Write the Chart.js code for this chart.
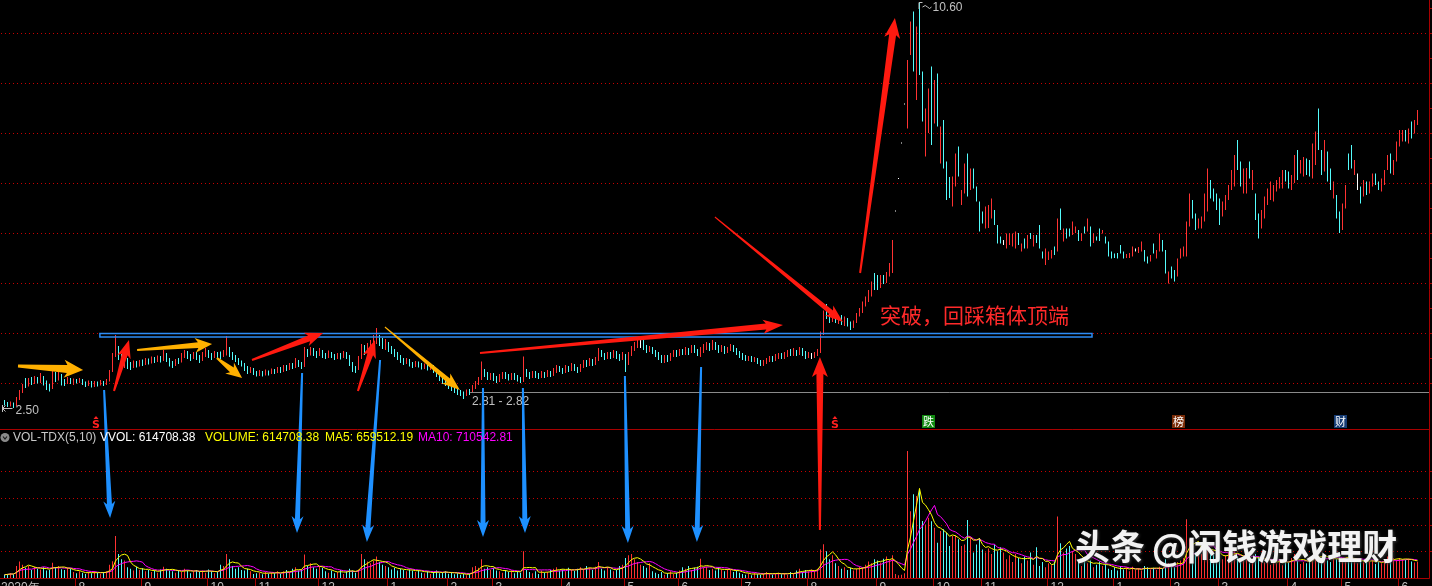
<!DOCTYPE html>
<html>
<head>
<meta charset="utf-8">
<title>VOL-TDX(5,10)</title>
<script src="https://cdn.jsdelivr.net/npm/chart.js@4.4.0/dist/chart.umd.min.js"></script>
<style>
  html, body { margin: 0; padding: 0; background: #000; overflow: hidden; width: 1432px; height: 586px; }
  canvas { display: block; }
</style>
</head>
<body>
<canvas id="kline" width="1432" height="596"></canvas>
<script>
// daily candles (price units)
const opens = [
  2.62,2.58,2.56,2.58,2.55,2.68,2.83,2.97,2.95,3.05,
  3.00,3.08,3.03,3.10,3.02,2.93,2.90,3.12,3.08,3.16,
  3.04,3.00,3.07,3.02,3.06,3.03,3.06,3.00,2.96,3.01,
  2.95,3.00,2.97,3.01,2.98,3.04,3.22,3.56,3.66,3.52,
  3.40,3.47,3.36,3.32,3.40,3.36,3.42,3.38,3.45,3.41,
  3.48,3.44,3.50,3.46,3.58,3.48,3.40,3.36,3.45,3.42,
  3.55,3.60,3.54,3.50,3.58,3.52,3.46,3.56,3.62,3.56,
  3.52,3.60,3.60,3.55,3.62,3.68,3.58,3.52,3.46,3.42,
  3.38,3.30,3.24,3.27,3.20,3.18,3.21,3.17,3.22,3.19,
  3.25,3.22,3.28,3.24,3.32,3.28,3.36,3.32,3.43,3.38,
  3.34,3.62,3.58,3.66,3.60,3.56,3.63,3.56,3.52,3.60,
  3.55,3.50,3.56,3.52,3.58,3.54,3.40,3.30,3.28,3.50,
  3.70,3.62,3.72,3.80,3.84,3.92,3.82,3.76,3.78,3.70,
  3.64,3.58,3.52,3.46,3.42,3.45,3.38,3.36,3.40,3.36,
  3.32,3.35,3.30,3.33,3.26,3.18,3.10,3.04,3.00,2.94,
  2.90,2.86,2.82,2.80,2.78,2.84,2.82,2.92,3.00,3.08,
  3.24,3.18,3.12,3.16,3.10,3.06,3.12,3.18,3.14,3.10,
  3.16,3.12,3.08,3.04,3.22,3.18,3.14,3.20,3.16,3.12,
  3.18,3.14,3.20,3.16,3.24,3.30,3.26,3.22,3.30,3.26,
  3.34,3.28,3.24,3.32,3.40,3.36,3.44,3.40,3.46,3.62,
  3.56,3.52,3.58,3.52,3.60,3.54,3.50,3.56,3.40,3.56,
  3.68,3.76,3.80,3.80,3.72,3.66,3.70,3.64,3.58,3.52,
  3.46,3.52,3.48,3.56,3.62,3.58,3.64,3.60,3.66,3.62,
  3.70,3.64,3.58,3.66,3.70,3.76,3.70,3.78,3.72,3.66,
  3.70,3.64,3.68,3.72,3.66,3.60,3.56,3.52,3.48,3.50,
  3.46,3.48,3.44,3.38,3.42,3.46,3.50,3.46,3.52,3.56,
  3.52,3.56,3.62,3.58,3.64,3.60,3.66,3.60,3.54,3.54,
  3.54,3.58,3.62,4.00,4.48,4.36,4.28,4.34,4.26,4.30,
  4.24,4.28,4.20,4.14,4.20,4.36,4.46,4.58,4.68,4.80,
  5.16,5.02,4.94,5.10,5.04,5.18,5.34,6.45,7.10,7.81,
  8.59,8.30,9.60,10.40,8.70,10.30,9.20,7.60,8.10,9.30,
  8.25,9.15,7.45,8.20,7.40,7.10,6.60,7.00,7.70,6.60,
  6.84,7.55,6.90,7.26,6.92,6.60,6.42,6.12,6.14,6.32,
  6.44,6.14,5.92,5.84,5.72,5.78,5.76,5.70,5.98,5.66,
  5.88,5.70,5.98,5.74,5.94,6.12,5.60,5.40,5.50,5.52,
  5.70,5.66,6.46,5.84,6.06,6.06,5.98,6.02,6.06,5.86,
  6.12,6.08,6.10,5.82,5.92,6.06,6.00,5.92,5.82,5.62,
  5.58,5.58,5.72,5.62,5.52,5.52,5.56,5.66,5.62,5.66,
  5.64,5.52,5.44,5.74,5.50,5.66,5.84,5.64,5.02,5.30,
  5.24,5.16,5.50,5.54,5.60,6.16,6.64,6.36,6.12,6.14,
  6.30,6.50,7.02,6.86,6.76,6.66,6.36,6.50,6.70,6.90,
  7.00,7.82,7.40,6.82,6.84,7.40,6.90,6.76,6.36,6.12,
  6.32,6.60,6.70,6.66,6.86,6.92,6.92,7.24,7.20,6.90,
  7.04,7.62,7.22,7.16,7.46,7.44,7.14,7.40,8.44,7.62,
  7.28,7.60,7.26,6.72,6.72,6.40,6.10,6.52,7.56,7.72,
  7.20,7.02,6.90,6.76,7.00,6.82,6.96,7.16,7.02,6.86,
  7.00,7.28,7.56,7.22,7.46,7.76,7.86,8.02,7.82,8.20,
  8.02,8.18
];
const closes = [
  2.58,2.55,2.60,2.54,2.68,2.82,2.95,2.94,3.05,3.00,
  3.08,3.03,3.12,3.02,2.92,2.88,3.12,3.08,3.18,3.04,
  3.00,3.08,3.02,3.06,3.03,3.07,3.00,2.96,3.02,2.95,
  3.00,2.97,3.02,2.98,3.03,3.22,3.55,3.66,3.52,3.40,
  3.48,3.36,3.32,3.40,3.36,3.42,3.38,3.45,3.41,3.48,
  3.44,3.50,3.46,3.60,3.48,3.40,3.36,3.45,3.42,3.55,
  3.60,3.54,3.50,3.58,3.52,3.46,3.56,3.62,3.56,3.52,
  3.60,3.55,3.55,3.62,3.70,3.58,3.52,3.46,3.42,3.38,
  3.30,3.24,3.28,3.20,3.18,3.22,3.17,3.22,3.19,3.25,
  3.22,3.28,3.24,3.32,3.28,3.36,3.32,3.44,3.38,3.34,
  3.62,3.58,3.66,3.60,3.56,3.64,3.56,3.52,3.60,3.55,
  3.50,3.56,3.52,3.58,3.54,3.40,3.30,3.28,3.50,3.70,
  3.62,3.72,3.80,3.88,3.92,3.82,3.76,3.80,3.70,3.64,
  3.58,3.52,3.46,3.42,3.46,3.38,3.36,3.40,3.36,3.32,
  3.36,3.30,3.34,3.26,3.18,3.10,3.04,3.00,2.94,2.90,
  2.86,2.82,2.80,2.78,2.84,2.82,2.92,3.00,3.08,3.26,
  3.18,3.12,3.16,3.10,3.06,3.12,3.18,3.14,3.10,3.16,
  3.12,3.08,3.04,3.22,3.18,3.14,3.20,3.16,3.12,3.18,
  3.14,3.20,3.16,3.24,3.30,3.26,3.22,3.30,3.26,3.34,
  3.28,3.24,3.32,3.40,3.36,3.44,3.40,3.46,3.62,3.56,
  3.52,3.58,3.52,3.60,3.54,3.50,3.56,3.40,3.56,3.68,
  3.76,3.84,3.80,3.72,3.66,3.70,3.64,3.58,3.52,3.46,
  3.52,3.48,3.56,3.62,3.58,3.64,3.60,3.66,3.62,3.70,
  3.64,3.58,3.66,3.70,3.76,3.70,3.78,3.72,3.66,3.70,
  3.64,3.68,3.72,3.66,3.60,3.56,3.52,3.48,3.50,3.46,
  3.48,3.44,3.38,3.42,3.46,3.50,3.46,3.52,3.56,3.52,
  3.56,3.62,3.58,3.64,3.60,3.66,3.60,3.54,3.58,3.54,
  3.58,3.62,4.00,4.20,4.36,4.28,4.34,4.26,4.30,4.24,
  4.28,4.20,4.14,4.20,4.34,4.46,4.58,4.68,4.80,4.98,
  5.02,4.94,5.10,5.04,5.18,5.34,5.86,6.45,7.10,7.81,
  8.59,9.40,10.20,9.30,10.10,9.20,8.30,8.40,8.85,7.80,
  9.00,8.15,8.10,7.35,6.70,6.75,7.10,7.55,7.18,6.84,
  7.36,6.78,7.25,6.92,6.66,6.06,6.22,6.50,6.52,6.66,
  6.20,5.82,5.82,5.84,5.96,5.98,5.96,5.98,5.80,5.78,
  5.72,5.92,5.90,5.94,5.82,5.72,5.52,5.66,5.62,5.66,
  5.58,6.26,6.10,6.08,5.90,5.94,6.20,6.12,5.86,6.00,
  6.00,6.26,5.76,5.98,5.86,5.86,6.06,5.80,5.56,5.52,
  5.52,5.50,5.62,5.52,5.58,5.60,5.70,5.66,5.70,5.80,
  5.46,5.42,5.54,5.62,5.64,5.94,5.68,5.24,5.20,5.12,
  5.06,5.46,5.66,5.70,6.20,6.76,6.36,6.10,6.26,6.28,
  6.74,7.24,6.74,6.66,6.50,6.20,6.60,6.72,6.92,7.20,
  7.50,7.30,6.96,7.24,7.26,7.12,7.22,6.30,5.92,6.42,
  6.70,6.86,7.00,6.94,7.04,7.08,7.22,7.06,6.92,7.12,
  7.50,7.10,7.44,7.48,7.20,7.16,7.74,8.00,7.70,7.20,
  7.82,7.06,6.90,7.00,6.32,6.04,6.56,6.92,7.30,7.32,
  7.42,7.02,6.62,7.02,6.80,7.00,7.16,7.00,6.88,7.08,
  7.22,7.52,7.22,7.42,7.80,8.04,8.04,7.86,8.06,7.92,
  8.24,8.44
];
const lows = [
  2.55,2.52,2.53,2.50,2.54,2.66,2.80,2.90,2.93,2.96,
  2.98,2.99,3.00,2.95,2.86,2.83,2.88,3.02,3.05,2.95,
  2.94,2.98,2.98,2.96,2.99,3.00,2.96,2.92,2.94,2.91,
  2.92,2.93,2.95,2.94,2.96,3.03,3.22,3.52,3.46,3.33,
  3.30,3.28,3.26,3.30,3.31,3.33,3.34,3.36,3.37,3.39,
  3.40,3.42,3.41,3.44,3.42,3.33,3.30,3.34,3.38,3.41,
  3.50,3.48,3.44,3.48,3.46,3.40,3.44,3.52,3.50,3.46,
  3.50,3.50,3.48,3.52,3.55,3.52,3.46,3.42,3.36,3.33,
  3.24,3.18,3.20,3.16,3.13,3.14,3.13,3.15,3.15,3.18,
  3.18,3.20,3.20,3.22,3.24,3.26,3.28,3.30,3.32,3.28,
  3.32,3.52,3.55,3.54,3.50,3.54,3.50,3.48,3.50,3.50,
  3.46,3.48,3.47,3.50,3.48,3.34,3.22,3.20,3.26,3.48,
  3.56,3.60,3.68,3.74,3.78,3.74,3.68,3.66,3.62,3.58,
  3.52,3.46,3.40,3.36,3.38,3.33,3.30,3.32,3.31,3.27,
  3.28,3.25,3.26,3.20,3.12,3.04,2.98,2.94,2.88,2.84,
  2.80,2.76,2.74,2.68,2.74,2.76,2.80,2.88,2.96,3.06,
  3.12,3.06,3.06,3.04,3.00,3.02,3.08,3.08,3.05,3.06,
  3.06,3.03,3.00,3.02,3.12,3.08,3.10,3.10,3.08,3.10,
  3.10,3.12,3.12,3.14,3.20,3.22,3.18,3.20,3.22,3.24,
  3.24,3.20,3.22,3.30,3.32,3.34,3.34,3.36,3.44,3.52,
  3.46,3.48,3.48,3.50,3.48,3.44,3.46,3.22,3.36,3.54,
  3.64,3.70,3.70,3.66,3.60,3.62,3.58,3.52,3.46,3.40,
  3.40,3.42,3.44,3.52,3.52,3.54,3.56,3.56,3.56,3.60,
  3.60,3.54,3.52,3.60,3.66,3.64,3.66,3.66,3.60,3.62,
  3.58,3.60,3.64,3.62,3.56,3.50,3.46,3.44,3.44,3.42,
  3.42,3.38,3.34,3.34,3.38,3.42,3.42,3.44,3.48,3.48,
  3.48,3.52,3.54,3.54,3.54,3.56,3.54,3.48,3.50,3.48,
  3.50,3.54,3.60,3.96,4.28,4.20,4.22,4.20,4.18,4.16,
  4.14,4.13,4.06,4.10,4.20,4.33,4.40,4.53,4.62,4.73,
  4.86,4.86,4.90,4.98,5.00,5.13,5.20,6.45,7.10,7.81,
  8.59,8.09,9.56,9.23,8.66,9.16,8.23,7.53,8.00,7.76,
  8.19,8.13,7.39,7.29,6.66,6.70,6.53,6.93,7.13,6.56,
  6.79,6.73,6.86,6.89,6.63,6.03,6.19,6.09,6.10,6.29,
  6.16,5.79,5.79,5.76,5.69,5.76,5.73,5.69,5.76,5.63,
  5.69,5.69,5.88,5.73,5.80,5.69,5.49,5.36,5.46,5.49,
  5.56,5.63,6.06,5.83,5.89,5.93,5.96,6.00,5.84,5.84,
  5.99,6.03,5.73,5.80,5.85,5.84,5.99,5.79,5.53,5.49,
  5.50,5.49,5.59,5.49,5.50,5.50,5.53,5.63,5.60,5.63,
  5.43,5.39,5.43,5.59,5.49,5.63,5.63,5.19,4.99,5.09,
  5.03,5.13,5.49,5.53,5.53,6.13,6.29,6.06,6.09,6.09,
  6.23,6.43,6.69,6.63,6.46,6.16,6.33,6.46,6.66,6.86,
  6.93,7.26,6.93,6.79,6.79,7.09,6.86,6.26,5.89,6.09,
  6.29,6.56,6.66,6.63,6.83,6.89,6.89,7.03,6.89,6.86,
  7.00,7.06,7.19,7.13,7.16,7.13,7.09,7.36,7.66,7.16,
  7.23,7.03,6.86,6.69,6.29,6.00,6.06,6.49,7.26,7.29,
  7.16,6.86,6.59,6.73,6.76,6.79,6.93,6.96,6.86,6.83,
  6.96,7.26,7.19,7.16,7.43,7.73,7.83,7.83,7.79,7.89,
  7.99,8.16
];
const highs = [
  2.66,2.62,2.63,2.61,2.72,2.86,2.98,3.10,3.10,3.12,
  3.14,3.12,3.20,3.14,3.05,2.98,3.26,3.22,3.24,3.18,
  3.08,3.12,3.10,3.09,3.08,3.10,3.08,3.03,3.05,3.04,
  3.04,3.03,3.06,3.04,3.08,3.26,3.60,3.96,3.74,3.58,
  3.52,3.50,3.42,3.45,3.44,3.46,3.47,3.50,3.49,3.53,
  3.52,3.55,3.54,3.66,3.60,3.50,3.44,3.48,3.50,3.60,
  3.66,3.64,3.58,3.62,3.62,3.56,3.62,3.70,3.66,3.60,
  3.64,3.62,3.63,3.66,3.94,3.72,3.62,3.56,3.50,3.45,
  3.40,3.34,3.32,3.30,3.24,3.26,3.24,3.27,3.25,3.29,
  3.28,3.32,3.32,3.36,3.36,3.40,3.40,3.50,3.46,3.42,
  3.72,3.68,3.72,3.70,3.64,3.70,3.66,3.60,3.65,3.62,
  3.58,3.60,3.60,3.64,3.62,3.56,3.42,3.34,3.54,3.78,
  3.76,3.80,3.86,3.96,4.10,3.96,3.90,3.88,3.82,3.74,
  3.68,3.62,3.56,3.50,3.50,3.48,3.42,3.44,3.43,3.40,
  3.39,3.38,3.37,3.36,3.28,3.22,3.12,3.07,3.03,2.98,
  2.93,2.90,2.86,2.83,2.87,2.88,2.96,3.04,3.12,3.43,
  3.28,3.22,3.20,3.20,3.14,3.18,3.22,3.22,3.18,3.20,
  3.20,3.16,3.12,3.53,3.28,3.22,3.24,3.24,3.20,3.24,
  3.22,3.26,3.24,3.30,3.36,3.34,3.30,3.36,3.34,3.40,
  3.38,3.32,3.38,3.46,3.46,3.50,3.48,3.52,3.70,3.66,
  3.60,3.62,3.62,3.66,3.64,3.58,3.62,3.58,3.62,3.74,
  3.82,3.90,3.88,3.86,3.76,3.74,3.72,3.66,3.62,3.56,
  3.56,3.56,3.60,3.66,3.66,3.68,3.68,3.72,3.70,3.76,
  3.76,3.68,3.72,3.78,3.82,3.80,3.86,3.82,3.76,3.76,
  3.74,3.72,3.78,3.76,3.70,3.64,3.60,3.56,3.54,3.54,
  3.52,3.50,3.46,3.46,3.50,3.54,3.54,3.58,3.60,3.60,
  3.62,3.66,3.68,3.70,3.66,3.72,3.70,3.64,3.62,3.60,
  3.62,3.68,4.03,4.45,4.58,4.44,4.40,4.38,4.36,4.36,
  4.33,4.30,4.23,4.25,4.40,4.50,4.63,4.73,4.86,5.03,
  5.20,5.16,5.16,5.16,5.22,5.40,5.86,6.45,7.10,7.81,
  8.59,9.46,10.23,10.43,10.13,10.60,9.23,8.49,8.89,9.33,
  9.06,9.19,8.13,8.26,7.43,7.12,7.13,7.59,7.73,6.86,
  7.39,7.59,7.29,7.29,6.93,6.63,6.43,6.53,6.56,6.69,
  6.46,6.16,5.93,5.86,5.99,6.00,5.99,6.03,6.00,5.79,
  5.89,5.96,6.00,5.96,5.96,6.16,5.63,5.69,5.63,5.66,
  5.73,6.29,6.49,6.09,6.09,6.09,6.23,6.13,6.06,6.00,
  6.13,6.29,6.13,6.00,5.93,6.09,6.06,5.93,5.83,5.63,
  5.59,5.60,5.76,5.63,5.58,5.60,5.73,5.69,5.72,5.83,
  5.66,5.53,5.56,5.79,5.66,5.99,5.86,5.66,5.23,5.33,
  5.26,5.49,5.69,5.73,6.23,6.79,6.66,6.39,6.29,6.33,
  6.79,7.29,7.06,6.89,6.79,6.69,6.63,6.76,6.96,7.26,
  7.56,7.86,7.43,7.29,7.30,7.43,7.26,6.79,6.39,6.46,
  6.73,6.89,7.03,6.96,7.06,7.12,7.26,7.26,7.23,7.16,
  7.56,7.66,7.46,7.52,7.49,7.46,7.79,8.03,8.49,7.66,
  7.86,7.63,7.29,7.03,6.76,6.43,6.59,6.96,7.59,7.76,
  7.46,7.19,6.93,7.06,7.03,7.03,7.19,7.19,7.03,7.09,
  7.26,7.56,7.59,7.46,7.83,8.06,8.06,8.06,8.09,8.23,
  8.26,8.46
];
// volume in units of 10,000 shares
const volumes = [
  12,15,18,14,45,62,50,38,45,30,
  42,35,32,40,28,30,57,40,45,33,
  30,38,35,22,18,25,20,15,22,18,
  25,20,16,22,25,50,63,157,90,70,
  65,40,35,28,42,30,36,25,30,22,
  28,20,32,42,35,28,25,20,30,22,
  35,28,18,25,30,22,28,20,32,25,
  18,22,50,45,90,70,45,35,40,30,
  28,35,25,15,18,20,14,22,16,20,
  18,25,15,25,30,22,35,40,28,32,
  88,45,55,40,35,42,38,25,20,28,
  18,22,30,15,25,35,28,20,32,90,
  70,62,55,65,80,60,50,45,40,32,
  38,28,35,30,25,32,28,22,30,20,
  18,25,15,22,28,18,20,25,16,22,
  14,18,12,15,10,16,40,45,38,70,
  35,40,30,38,28,25,20,30,22,28,
  18,25,20,100,30,22,18,25,15,28,
  20,22,30,35,40,28,32,25,38,30,
  26,35,40,32,45,38,30,42,60,35,
  28,40,32,25,30,45,50,75,85,90,
  70,60,50,45,38,55,25,20,15,22,
  12,18,25,15,20,28,40,35,45,30,
  38,42,72,38,42,30,35,28,40,32,
  25,35,30,22,28,20,15,12,18,10,
  20,14,12,16,22,18,12,15,20,14,
  18,12,22,16,28,35,22,30,25,32,
  28,35,107,126,100,70,85,55,45,35,
  40,30,38,28,35,42,40,50,62,55,
  70,65,58,72,80,68,85,15,10,12,
  18,475,250,313,307,330,213,200,225,212,
  188,132,176,182,170,120,157,160,145,120,
  125,217,150,95,125,150,107,95,110,90,
  125,100,115,95,70,85,60,90,75,55,
  80,65,95,50,115,45,60,40,55,48,
  62,230,130,95,110,120,100,90,60,45,
  70,55,65,40,50,62,45,55,35,30,
  40,28,45,32,38,25,42,30,36,28,
  45,40,32,38,30,42,35,70,55,45,
  40,60,65,75,220,145,120,95,105,90,
  115,130,100,88,75,95,70,85,100,90,
  107,80,60,75,85,55,70,90,80,65,
  58,72,50,62,55,70,48,66,58,75,
  90,68,52,60,55,70,85,95,80,72,
  88,65,60,78,70,82,68,75,90,70,
  62,55,68,58,72,60,65,52,60,55,
  70,80,62,75,68,75,70,68,72,62,
  58,61
];

const slotCount = 475; // 3 empty slots after the last candle
const monthTickIdx = [24, 46, 68, 84, 105, 128, 148, 163, 186, 207, 225, 246, 268, 291, 310, 326, 348, 370, 389, 405, 428, 446, 465];
const monthLabels = ['8', '9', '10', '11', '12', '1', '2', '3', '4', '5', '6', '7', '8', '9', '10', '11', '12', '1', '2', '3', '4', '5', '6'];
const priceGrid = [3, 4, 5, 6, 7, 8, 9, 10];
const volGrid = [100, 200, 300, 400];

// annotations drawn on top, in data units: [candle index, value, axis]
const boxRange = { from: 31.8, to: 362.5, top: 3.99, bottom: 3.92 };
const lowLine = { from: 155.2, price: 2.82 };
const panelFloor = 2.08;
const arrowNotes = [
  { from: [4.5, 3.34, 'y'], to: [26.2, 3.26, 'y'], color: '#ffb000', w: [3, 8, 18, 16] },
  { from: [44.2, 3.66, 'y'], to: [69.2, 3.78, 'y'], color: '#ffb000', w: [2, 6, 15, 14] },
  { from: [70.8, 3.50, 'y'], to: [79.2, 3.10, 'y'], color: '#ffb000', w: [2, 6, 14, 13] },
  { from: [126.8, 4.12, 'y'], to: [151.8, 2.86, 'y'], color: '#ffb000', w: [1, 5, 13, 15] },
  { from: [36.5, 2.84, 'y'], to: [41.5, 3.86, 'y'], color: '#ff1a10', w: [2, 6, 14, 15] },
  { from: [82.5, 3.46, 'y'], to: [106.2, 4.00, 'y'], color: '#ff1a10', w: [2, 6, 14, 15] },
  { from: [117.8, 2.84, 'y'], to: [123.5, 3.86, 'y'], color: '#ff1a10', w: [2, 6, 14, 15] },
  { from: [158.5, 3.60, 'y'], to: [259.5, 4.16, 'y'], color: '#ff1a10', w: [2, 6, 14, 17] },
  { from: [236.8, 6.32, 'y'], to: [279.5, 4.22, 'y'], color: '#ff1a10', w: [1, 5, 13, 15] },
  { from: [271.8, 179, 'yv'], to: [271.8, 3.52, 'y'], color: '#ff1a10', w: [2, 7, 16, 17] },
  { from: [285.2, 5.20, 'y'], to: [296.8, 10.30, 'y'], color: '#ff1a10', w: [2, 7, 16, 17] },
  { from: [33.2, 2.86, 'y'], to: [35.2, 224, 'yv'], color: '#1e90ff', w: [2, 5, 12, 14] },
  { from: [99.2, 3.20, 'y'], to: [97.5, 168, 'yv'], color: '#1e90ff', w: [2, 5, 12, 14] },
  { from: [125.2, 3.46, 'y'], to: [120.8, 135, 'yv'], color: '#1e90ff', w: [2, 5, 12, 14] },
  { from: [159.5, 2.90, 'y'], to: [159.5, 153, 'yv'], color: '#1e90ff', w: [2, 5, 12, 14] },
  { from: [172.8, 2.90, 'y'], to: [173.5, 168, 'yv'], color: '#1e90ff', w: [2, 5, 12, 14] },
  { from: [206.8, 3.14, 'y'], to: [207.8, 131, 'yv'], color: '#1e90ff', w: [2, 5, 12, 14] },
  { from: [232.2, 3.32, 'y'], to: [230.8, 135, 'yv'], color: '#1e90ff', w: [2, 5, 12, 14] }
];
const signalMarks = [30.5, 276.8];
const newsIcons = [
  { idx: 307.8, ch: '跌', bg: '#118a11' },
  { idx: 391.2, ch: '榜', bg: '#7a2c08' },
  { idx: 445.2, ch: '财', bg: '#163c74' }
];

const RED = '#ff3232', CYAN = '#54fcfc', WHITE = '#ffffff';
const GRID_RED = '#c80000', AXIS_RED = '#a80000';
const LABEL_GRAY = '#c0c0c0';

function movingAverage(values, n) {
  return values.map((_, i) => {
    const win = values.slice(Math.max(0, i - n + 1), i + 1);
    return win.reduce((a, b) => a + b, 0) / win.length;
  });
}

const candleColors = closes.map((c, i) => c > opens[i] ? RED : (c < opens[i] ? CYAN : WHITE));
const volColors = closes.map((c, i) => c >= opens[i] ? RED : CYAN);
const ma5 = movingAverage(volumes, 5);
const ma10 = movingAverage(volumes, 10);
const labels = Array.from({ length: slotCount }, (_, i) => String(i));

function seg(ctx, x1, y1, x2, y2) {
  ctx.beginPath();
  ctx.moveTo(x1, y1);
  ctx.lineTo(x2, y2);
  ctx.stroke();
}

// dotted grid line: one pixel every 4
function dotRow(ctx, y, right) {
  for (let x = 1; x < right; x += 4) ctx.fillRect(x, y, 1, 1);
}

function drawArrow(ctx, x1, y1, x2, y2, color, w) {
  const [tailW, shaftW, headW, headL] = w;
  const dx = x2 - x1, dy = y2 - y1, len = Math.hypot(dx, dy);
  const ux = dx / len, uy = dy / len, nx = -uy, ny = ux;
  const bx = x2 - ux * headL, by = y2 - uy * headL;
  ctx.beginPath();
  ctx.moveTo(x1 + nx * tailW / 2, y1 + ny * tailW / 2);
  ctx.lineTo(bx + nx * shaftW / 2, by + ny * shaftW / 2);
  ctx.lineTo(bx + nx * headW / 2 - ux * 3, by + ny * headW / 2 - uy * 3);
  ctx.lineTo(x2, y2);
  ctx.lineTo(bx - nx * headW / 2 - ux * 3, by - ny * headW / 2 - uy * 3);
  ctx.lineTo(bx - nx * shaftW / 2, by - ny * shaftW / 2);
  ctx.lineTo(x1 - nx * tailW / 2, y1 - ny * tailW / 2);
  ctx.closePath();
  ctx.fillStyle = color;
  ctx.fill();
}

const tdxOverlay = {
  id: 'tdxOverlay',
  beforeDraw(chart) {
    const { ctx, width, height } = chart;
    ctx.save();
    ctx.fillStyle = '#000';
    ctx.fillRect(0, 0, width, height);
    ctx.restore();
  },
  beforeDatasetsDraw(chart) {
    const { ctx, chartArea: ca, scales } = chart;
    ctx.save();
    ctx.fillStyle = GRID_RED;
    priceGrid.forEach(p => dotRow(ctx, Math.round(scales.y.getPixelForValue(p)), ca.right));
    volGrid.forEach(v => dotRow(ctx, Math.round(scales.yv.getPixelForValue(v)), ca.right));
    ctx.restore();
  },
  afterDatasetsDraw(chart) {
    const { ctx, chartArea: ca, scales } = chart;
    const X = i => scales.x.getPixelForValue(i);
    const Y = p => scales.y.getPixelForValue(p);
    const V = v => scales.yv.getPixelForValue(v);
    const P = ([i, v, axis]) => [X(i), axis === 'yv' ? V(v) : Y(v)];
    const axisX = ca.right + 1.5;
    const sepY = Math.round(Y(panelFloor)) + 0.5;
    const baseY = Math.round(ca.bottom) + 0.5;

    ctx.save();

    // box top band
    ctx.strokeStyle = '#2d8cf5';
    ctx.lineWidth = 1.5;
    const bx0 = X(boxRange.from), bx1 = X(boxRange.to);
    const by0 = Y(boxRange.top), by1 = Y(boxRange.bottom);
    ctx.strokeRect(bx0, by0, bx1 - bx0, by1 - by0);

    // low price line
    ctx.strokeStyle = '#8a8a8a';
    ctx.lineWidth = 1;
    const ly = Math.round(Y(lowLine.price)) + 0.5;
    seg(ctx, X(lowLine.from), ly, axisX, ly);

    // panel frame
    ctx.strokeStyle = AXIS_RED;
    seg(ctx, 0, sepY, axisX, sepY);
    seg(ctx, 0, baseY, axisX, baseY);
    seg(ctx, axisX, 0, axisX, baseY);
    for (let p = 3; p <= 10.5; p += 0.5) {
      const y = Math.round(Y(p)) + 0.5;
      seg(ctx, axisX, y, axisX + 4, y);
    }
    volGrid.forEach(v => {
      const y = Math.round(V(v)) + 0.5;
      seg(ctx, axisX, y, axisX + 4, y);
    });

    // month ticks and labels
    ctx.font = '12px "Liberation Sans", Arial, sans-serif';
    ctx.textBaseline = 'top';
    ctx.textAlign = 'left';
    ctx.fillStyle = LABEL_GRAY;
    ctx.fillText('2020年', 1, baseY + 3);
    monthTickIdx.forEach((idx, k) => {
      const x = Math.round(X(idx) - 1.5) + 0.5;
      ctx.strokeStyle = AXIS_RED;
      seg(ctx, x, baseY, x, baseY + 9);
      ctx.fillStyle = LABEL_GRAY;
      ctx.fillText(monthLabels[k], x + 3, baseY + 3);
    });

    // high / low price tags
    ctx.strokeStyle = LABEL_GRAY;
    ctx.fillStyle = LABEL_GRAY;
    ctx.lineWidth = 1;
    const hx = X(305), hy = Y(10.60);
    ctx.beginPath();
    ctx.moveTo(hx - 0.5, hy + 6); ctx.lineTo(hx - 0.5, hy - 0.5); ctx.lineTo(hx + 3, hy - 0.5);
    ctx.stroke();
    ctx.beginPath();
    ctx.moveTo(hx + 3, hy + 4);
    ctx.quadraticCurveTo(hx + 6, hy + 1, hx + 8, hy + 4);
    ctx.quadraticCurveTo(hx + 10, hy + 7, hx + 12, hy + 4);
    ctx.stroke();
    ctx.textBaseline = 'middle';
    ctx.fillText('10.60', hx + 13, hy + 5);

    const lx = X(3), lyy = Y(2.50);
    seg(ctx, lx - 11, lyy + 0.5, lx - 1, lyy + 0.5);
    seg(ctx, lx - 11, lyy + 0.5, lx - 8, lyy - 2.5);
    seg(ctx, lx - 11, lyy + 0.5, lx - 8, lyy + 3.5);
    seg(ctx, lx - 11, lyy - 3, lx - 11, lyy + 4);
    ctx.fillText('2.50', lx + 2, lyy + 3);
    ctx.fillText('2.81 - 2.82', X(155.8), Y(2.62));

    // signal marks
    ctx.fillStyle = '#ff2020';
    ctx.font = 'bold 11px "DejaVu Sans", sans-serif';
    ctx.textAlign = 'center';
    signalMarks.forEach(idx => {
      const x = X(idx), y = Y(2.20);
      ctx.fillText('S', x, y + 2);
      ctx.beginPath();
      ctx.moveTo(x - 2.5, y - 4); ctx.lineTo(x, y - 7); ctx.lineTo(x + 2.5, y - 4);
      ctx.closePath(); ctx.fill();
    });

    // news icons
    ctx.font = '11px "Noto Sans CJK SC", sans-serif';
    newsIcons.forEach(n => {
      const x = Math.round(X(n.idx)), y = Math.round(Y(2.23));
      ctx.fillStyle = n.bg;
      ctx.fillRect(x - 6, y - 7, 13, 13);
      ctx.fillStyle = '#ffffff';
      ctx.fillText(n.ch, x + 0.5, y);
    });

    // breakout note
    ctx.fillStyle = '#ff2a2a';
    ctx.font = '21px "Noto Sans CJK SC", sans-serif';
    ctx.textAlign = 'left';
    ctx.fillText('突破，回踩箱体顶端', X(291.8), Y(4.36));

    // arrows
    arrowNotes.forEach(a => {
      const [x1, y1] = P(a.from);
      const [x2, y2] = P(a.to);
      drawArrow(ctx, x1, y1, x2, y2, a.color, a.w);
    });

    // indicator legend
    const legY = sepY + 8;
    ctx.fillStyle = '#8a8a8a';
    ctx.beginPath(); ctx.arc(5, legY, 4.5, 0, Math.PI * 2); ctx.fill();
    ctx.strokeStyle = '#1a1a1a';
    ctx.lineWidth = 1.2;
    ctx.beginPath(); ctx.moveTo(3, legY - 1); ctx.lineTo(5, legY + 1.5); ctx.lineTo(7, legY - 1); ctx.stroke();
    ctx.font = '12px "Liberation Sans", Arial, sans-serif';
    ctx.textBaseline = 'middle';
    const legend = [
      ['VOL-TDX(5,10)', 13, '#c8c8c8'],
      ['VVOL: 614708.38', 100, '#ffffff'],
      ['VOLUME: 614708.38', 205, '#ffff00'],
      ['MA5: 659512.19', 325, '#ffff00'],
      ['MA10: 710542.81', 418, '#ff00ff']
    ];
    legend.forEach(([t, x, c]) => { ctx.fillStyle = c; ctx.fillText(t, x, legY); });

    // watermark
    ctx.font = 'bold 35px "Noto Sans CJK SC", sans-serif';
    ctx.shadowColor = 'rgba(60,60,60,0.95)';
    ctx.shadowBlur = 3;
    ctx.shadowOffsetX = 1;
    ctx.shadowOffsetY = 1;
    ctx.fillStyle = '#f2f2f2';
    ctx.fillText('头条', 1075, 547);
    ctx.fillText('@闲钱游戏理财', 1152, 547);

    ctx.restore();
  }
};

Chart.defaults.font.family = '"Liberation Sans", Arial, sans-serif';

new Chart(document.getElementById('kline'), {
  type: 'bar',
  data: {
    labels,
    datasets: [
      {
        label: 'wick', data: lows.map((l, i) => [l, highs[i]]),
        backgroundColor: candleColors, barThickness: 1, grouped: false,
        inflateAmount: 0, yAxisID: 'y', order: 2
      },
      {
        label: 'body', data: opens.map((o, i) => [o, closes[i]]),
        backgroundColor: candleColors, barThickness: 1, minBarLength: 1, grouped: false,
        inflateAmount: 0, yAxisID: 'y', order: 1
      },
      {
        label: 'VOLUME', data: volumes,
        backgroundColor: volColors, barThickness: 1, grouped: false,
        inflateAmount: 0, yAxisID: 'yv', order: 3
      },
      {
        type: 'line', label: 'MA5', data: ma5, borderColor: '#ffff00',
        borderWidth: 1, pointRadius: 0, tension: 0, yAxisID: 'yv', order: 0
      },
      {
        type: 'line', label: 'MA10', data: ma10, borderColor: '#ff00ff',
        borderWidth: 1, pointRadius: 0, tension: 0, yAxisID: 'yv', order: 0
      }
    ]
  },
  options: {
    responsive: false,
    maintainAspectRatio: false,
    animation: false,
    devicePixelRatio: 1,
    events: [],
    layout: { padding: { left: 3, right: 4, top: 0, bottom: 18 } },
    plugins: { legend: { display: false }, tooltip: { enabled: false } },
    scales: {
      x: { type: 'category', display: false, offset: true },
      y: { type: 'linear', display: false, min: -0.9, max: 10.66 },
      yv: { type: 'linear', display: false, min: 0, max: 2161, position: 'right' }
    }
  },
  plugins: [tdxOverlay]
});
</script>
</body>
</html>
